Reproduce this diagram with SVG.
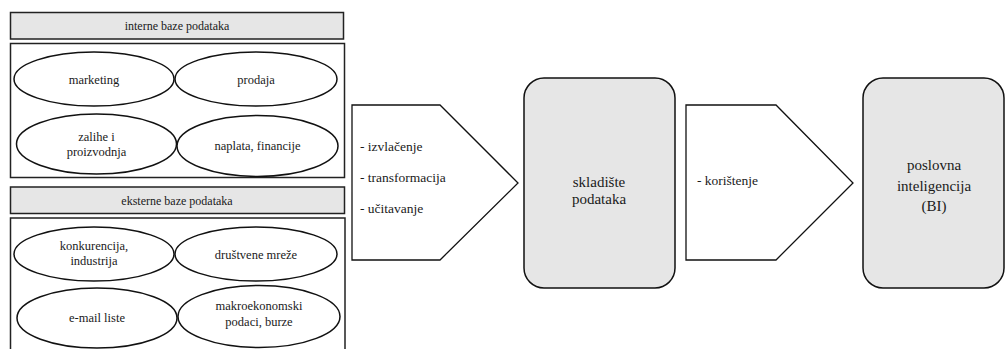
<svg xmlns="http://www.w3.org/2000/svg" width="1006" height="349" viewBox="0 0 1006 349" font-family="Liberation Serif, Tinos, DejaVu Serif, serif">
<style>
text{font-family:'Liberation Serif',Tinos,'DejaVu Serif',serif;fill:#1a1a1a}
.hdr{fill:#e6e6e6;stroke:#222;stroke-width:1.5}
.box{fill:#fff;stroke:#222;stroke-width:1.5}
.ell{fill:#fff;stroke:#111;stroke-width:1.5}
.big{fill:#e6e6e6;stroke:#111;stroke-width:1.5}
.arr{fill:#fff;stroke:#111;stroke-width:1.3}
.s12{font-size:12px;text-anchor:middle}
.s13{font-size:12.5px;text-anchor:middle}
.s14{font-size:13.5px}
.s15{font-size:15px;text-anchor:middle}
</style>
<rect width="1006" height="349" fill="#fff"/>
<g id="interne">
<rect class="hdr" x="10.5" y="12.5" width="333" height="26.5"/>
<text class="s12" x="177" y="30">interne baze podataka</text>
</g>
<g id="interne-sadrzaj">
<rect class="box" x="10.5" y="43.5" width="334" height="134"/>
<g id="marketing"><ellipse class="ell" cx="94" cy="79" rx="80" ry="27"/><text class="s13" x="94" y="83.5">marketing</text></g>
<g id="prodaja"><ellipse class="ell" cx="256" cy="79" rx="81" ry="27"/><text class="s13" x="256" y="83.5">prodaja</text></g>
<g id="zalihe"><ellipse class="ell" cx="96.5" cy="144" rx="80" ry="30"/><text class="s13" x="96.5" y="141">zalihe i</text><text class="s13" x="96.5" y="156">proizvodnja</text></g>
<g id="naplata"><ellipse class="ell" cx="257.5" cy="146" rx="80.5" ry="30.5"/><text class="s13" x="257.5" y="150">naplata, financije</text></g>
</g>
<g id="eksterne">
<rect class="hdr" x="10.5" y="187" width="334" height="26.5"/>
<text class="s12" x="177" y="204.5">eksterne baze podataka</text>
</g>
<g id="eksterne-sadrzaj">
<path class="box" d="M10.5 352 V218 H345 V352"/>
<g id="konkurencija"><ellipse class="ell" cx="94" cy="254" rx="80" ry="27"/><text class="s13" x="94" y="250">konkurencija,</text><text class="s13" x="94" y="265">industrija</text></g>
<g id="drustvene"><ellipse class="ell" cx="256" cy="254" rx="81" ry="27"/><text class="s13" x="256" y="258.5">društvene mreže</text></g>
<g id="email"><ellipse class="ell" cx="97" cy="318" rx="80" ry="30"/><text class="s13" x="97" y="322">e-mail liste</text></g>
<g id="makro"><ellipse class="ell" cx="259" cy="316.5" rx="81" ry="31"/><text class="s13" x="259" y="310">makroekonomski</text><text class="s13" x="259" y="326">podaci, burze</text></g>
</g>
<g id="connectors">
<g id="etl">
<path class="arr" d="M352 105 H440 L518 183 L440 260 H352 Z"/>
<text class="s14" x="360" y="151">-  izvlačenje</text>
<text class="s14" x="360" y="182">-  transformacija</text>
<text class="s14" x="360" y="213">-  učitavanje</text>
</g>
<g id="koristenje">
<path class="arr" d="M686 105 H776 L853 183 L776 260 H686 Z"/>
<text class="s14" x="697" y="185">-  korištenje</text>
</g>
</g>
<g id="skladiste">
<rect class="big" x="524" y="78" width="151" height="210" rx="20"/>
<text class="s15" x="599" y="187">skladište</text>
<text class="s15" x="599" y="204">podataka</text>
</g>
<g id="bi">
<rect class="big" x="863" y="78" width="141" height="210" rx="20"/>
<text class="s15" x="934" y="170">poslovna</text>
<text class="s15" x="934" y="191">inteligencija</text>
<text class="s15" x="934" y="211">(BI)</text>
</g>
</svg>
